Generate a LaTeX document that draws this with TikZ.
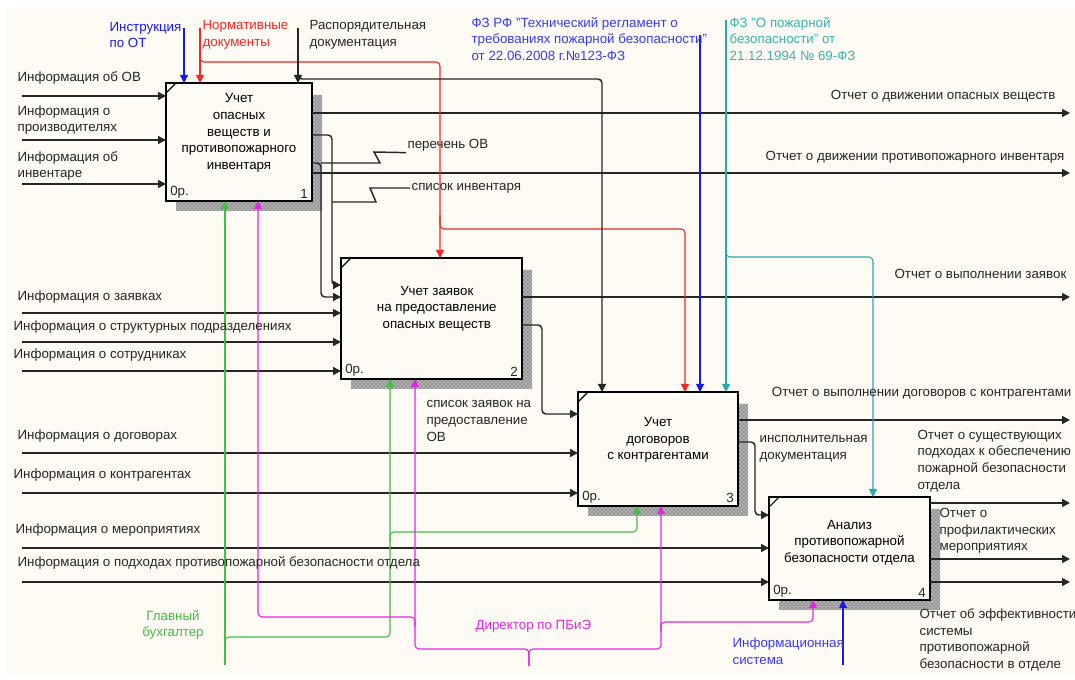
\documentclass[tikz,border=0pt]{standalone}
\usepackage{fontspec}
\setmainfont{Liberation Sans}
\usetikzlibrary{calc,arrows.meta,patterns,backgrounds}

\definecolor{bgcol}{RGB}{253,251,243}
\definecolor{cblue}{RGB}{25,25,235}
\definecolor{cred}{RGB}{240,40,40}
\definecolor{cteal}{RGB}{40,170,170}
\definecolor{cgreen}{RGB}{70,190,70}
\definecolor{cmag}{RGB}{225,40,225}

\tikzset{
  fbox/.style={draw, line width=2.2pt, fill=bgcol, inner sep=0pt, outer sep=0pt},
  ttl/.style={align=center, font=\fontsize{10}{12.5}\selectfont},
  lbl/.style={align=left, inner sep=1pt, font=\fontsize{10}{12.5}\selectfont, text=black!85},
  arr/.style={color=black!85, line width=1.1pt, rounded corners=3pt, -{Triangle[length=6pt,width=6pt]}},
  ln/.style={color=black!85, line width=1.1pt},
  carr/.style={arr, color=#1, line width=0.8pt},
  hatch/.style={fill=black!30, postaction={pattern=crosshatch dots, pattern color=black!80}},
}

\begin{document}
\begin{tikzpicture}[x=0.75pt, y=-0.75pt]
    \useasboundingbox (0,0) rectangle (1075,680);

    \node[fbox, minimum width=109.5pt, minimum height=88.5pt] (b1) at (239,142) {};
    \node[fbox, minimum width=135.75pt, minimum height=90.75pt] (b2) at (431.5,318.5) {};
    \node[fbox, minimum width=120pt, minimum height=85.5pt] (b3) at (658,449) {};
    \node[fbox, minimum width=120.75pt, minimum height=77.25pt] (b4) at (849.5,548.5) {};

    \begin{scope}[on background layer]
        \fill[bgcol] (6,8) rectangle (1075,676);
        \foreach \bx in {b1,b2,b3,b4}
            \fill[hatch] ([yshift=-9pt]\bx.north east) -- ([shift={(7.5pt,-9pt)}]\bx.north east)
                -- ([shift={(7.5pt,-7.5pt)}]\bx.south east) -- ([shift={(7.5pt,-7.5pt)}]\bx.south west)
                -- ([xshift=7.5pt]\bx.south west) -- (\bx.south east) -- cycle;
    \end{scope}

    \node[ttl] (t1) at ([yshift=6.75pt]b1.center) {Учет\\опасных\\веществ и\\противопожарного\\инвентаря};
    \node[ttl] (t2) at ([xshift=4pt,yshift=7.5pt]b2.center) {Учет заявок\\на предоставление\\опасных веществ};
    \node[ttl] (t3) at ([yshift=6.75pt]b3.center) {Учет\\договоров\\с контрагентами};
    \node[ttl] (t4) at ([yshift=4.5pt]b4.center) {Анализ\\противопожарной\\безопасности отдела};

    \foreach \bx/\n in {b1/1,b2/2,b3/3,b4/4} {
        \node[lbl, anchor=south west] (\bx-p) at ([shift={(2pt,1pt)}]\bx.south west) {0р.};
        \node[lbl, anchor=south east] (\bx-n) at ([shift={(-2pt,1pt)}]\bx.south east) {\n};
        \draw[line width=0.8pt] ([yshift=-7.5pt]\bx.north west) -- ([xshift=7.5pt]\bx.north west);
    }

    \foreach \y/\bx in {96/b1,140/b1,184/b1,313/b2,342/b2,371/b2,453/b3,493/b3,548/b4,582/b4} {
        \coordinate (in\y) at (22,\y);
        \draw[arr] (in\y) -- (in\y -| \bx.west);
    }
    \foreach \y/\bx in {113/b1,173/b1,297/b2,420/b3,503/b4,559/b4,582/b4} {
        \coordinate (out\y) at (1070,\y);
        \draw[arr] (out\y -| \bx.east) -- (out\y);
    }

    \draw[arr] (b1.east |- 0,135) -- (332,135) -- (332,285) -- (b2.west |- 0,285);
    \draw[arr] (b1.east |- 0,163) -- (321,163) -- (321,297) -- (b2.west |- 0,297);
    \draw[arr] (b2.east |- 0,325) -- (542,325) -- (542,414) -- (b3.west |- 0,414);
    \draw[arr] (b3.east |- 0,442) -- (755,442) -- (755,515) -- (b4.west |- 0,515);

    \coordinate (cInstr) at (184,28);
    \coordinate (cNorm) at (200,28);
    \coordinate (cRasp) at (298,28);
    \coordinate (cFz) at (700,35);
    \coordinate (cPb) at (726,20);
    \draw[carr=cblue] (cInstr) -- (cInstr |- b1.north);
    \draw[carr=cred] (cNorm) -- (cNorm |- b1.north);
    \draw[carr=cred] (200,50) -- (200,62) -- (440,62) -- (b2.north -| 440,0);
    \draw[carr=cred] (440,215) -- (440,229) -- (685,229) -- (b3.north -| 685,0);
    \draw[arr] (cRasp) -- (cRasp |- b1.north);
    \draw[arr] (298,68) -- (298,79) -- (602,79) -- (b3.north -| 602,0);
    \draw[carr=cblue] (cFz) -- (cFz |- b3.north);
    \draw[carr=cteal] (cPb) -- (cPb |- b3.north);
    \draw[carr=cteal] (726,245) -- (726,257) -- (873,257) -- (b4.north -| 873,0);

    \coordinate (mBuh) at (225,665);
    \coordinate (mDir) at (529,666);
    \coordinate (mInf) at (843,665);
    \draw[carr=cgreen] (mBuh) -- (mBuh |- b1.south);
    \draw[carr=cgreen] (225,647) -- (225,637) -- (390,637) -- (b2.south -| 390,0);
    \draw[carr=cgreen] (390,542) -- (390,532) -- (637,532) -- (b3.south -| 637,0);
    \draw[carr=cmag] (mDir) -- (529,649) -- (415,649) -- (b2.south -| 415,0);
    \draw[carr=cmag] (mDir) -- (529,649) -- (661,649) -- (b3.south -| 661,0);
    \draw[carr=cmag] (415,627) -- (415,617) -- (258,617) -- (b1.south -| 258,0);
    \draw[carr=cmag] (661,632) -- (661,622) -- (813,622) -- (b4.south -| 813,0);
    \draw[carr=cblue] (mInf) -- (mInf |- b4.south);

    \node[lbl, anchor=west] (lIn1) at (16,78) {Информация об ОВ};
    \node[lbl, anchor=west] (lIn2) at (16,120) {Информация о\\производителях};
    \node[lbl, anchor=west] (lIn3) at (16,166) {Информация об\\инвентаре};
    \node[lbl, anchor=west] (lIn4) at (16,297) {Информация о заявках};
    \node[lbl, anchor=west] (lIn5) at (12,327) {Информация о структурных подразделениях};
    \node[lbl, anchor=west] (lIn6) at (12,355) {Информация о сотрудниках};
    \node[lbl, anchor=west] (lIn7) at (16,436) {Информация о договорах};
    \node[lbl, anchor=west] (lIn8) at (12,475) {Информация о контрагентах};
    \node[lbl, anchor=west] (lIn9) at (14,530) {Информация о мероприятиях};
    \node[lbl, anchor=west] (lIn10) at (16,563) {Информация о подходах противопожарной безопасности отдела};

    \node[lbl, anchor=east] (lOut1) at (1057,96) {Отчет о движении опасных веществ};
    \node[lbl, anchor=east] (lOut2) at (1066,157) {Отчет о движении противопожарного инвентаря};
    \node[lbl, anchor=east] (lOut3) at (1068,274) {Отчет о выполнении заявок};
    \node[lbl, anchor=east] (lOut4) at (1073,393) {Отчет о выполнении договоров с контрагентами};
    \node[lbl, anchor=west] (lOut5) at (916,461) {Отчет о существующих\\подходах к обеспечению\\пожарной безопасности\\отдела};
    \node[lbl, anchor=west] (lOut6) at (938,531) {Отчет о\\профилактических\\мероприятиях};
    \node[lbl, anchor=west] (lOut7) at (918,640) {Отчет об эффективности\\системы\\противопожарной\\безопасности в отделе};

    \node[lbl, anchor=west] (lPer) at (406,145) {перечень ОВ};
    \node[lbl, anchor=west] (lSpi) at (410,188) {список инвентаря};
    \node[lbl, anchor=west] (lZay) at (425,421) {список заявок на\\предоставление\\ОВ};
    \node[lbl, anchor=west] (lIsp) at (758,449) {инсполнительная\\документация};
    \draw[ln] (321,163) -- (380,163) -- (374,152) -- (lPer.south west);
    \draw[ln] (332,202) -- (376,202) -- (370,188) -- (lSpi.west);

    \node[lbl, anchor=west, text=cblue] (lInstr) at (108,35) {Инструкция\\по ОТ};
    \begin{scope}
        \clip (150,8) rectangle (289,60);
        \node[lbl, anchor=west, text=cred] (lNorm) at (201,35) {Нормативные\\документы};
    \end{scope}
    \node[lbl, anchor=west] (lRasp) at (308,35) {Распорядительная\\документация};
    \node[lbl, anchor=west, text=cblue!85!white] (lFz) at (470,39) {ФЗ РФ "Технический регламент о\\требованиях пожарной безопасности"\\от 22.06.2008 г.№123-ФЗ};
    \node[lbl, anchor=west, text=cteal!90!white] (lPb) at (728,39) {ФЗ "О пожарной\\безопасности" от\\21.12.1994 № 69-ФЗ};

    \node[lbl, align=center, text=cgreen] (lBuh) at (173,625) {Главный\\бухгалтер};
    \node[lbl, anchor=west, text=cmag] (lDir) at (474,626) {Директор по ПБиЭ};
    \node[lbl, anchor=west, text=cblue!85!white] (lInf) at (731,651) {Информационная\\система};
\end{tikzpicture}
\end{document}
